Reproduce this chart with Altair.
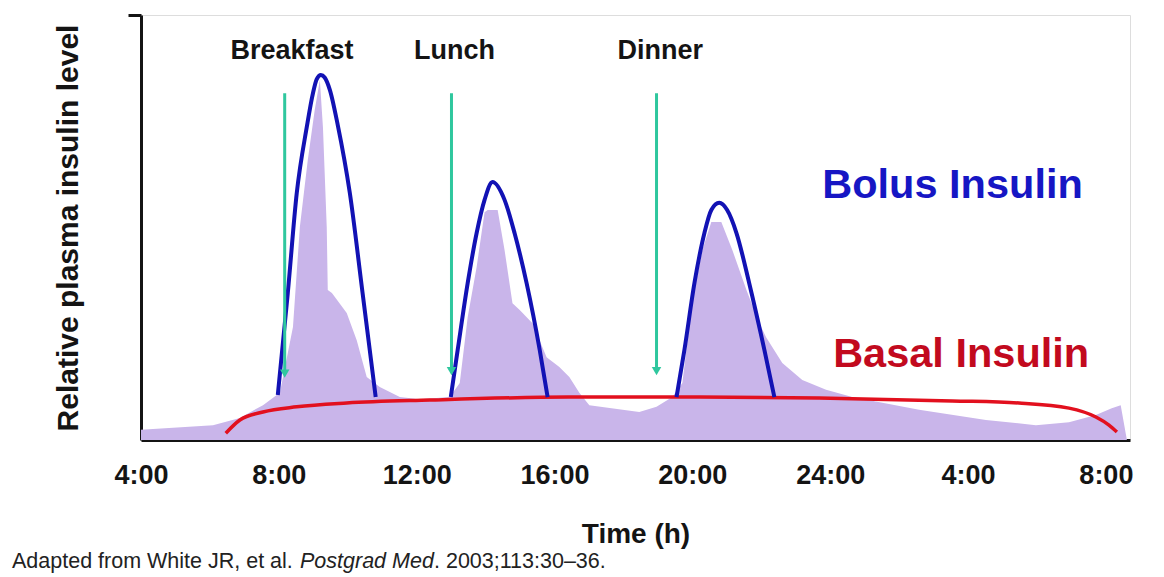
import altair as alt
import pandas as pd

# ---------------- data ----------------
# physiological insulin secretion (lavender area)
phys_hour = [4.0, 6.09, 6.87, 7.54, 7.94, 8.03, 8.41, 8.61, 8.84, 9.04, 9.19, 9.28, 9.39, 9.42,
             9.54, 9.97, 10.26, 10.55, 10.93, 11.51, 12.09, 12.96, 13.25, 13.48, 13.74, 13.97,
             14.06, 14.35, 14.55, 14.78, 14.99, 15.36, 15.77, 16.14, 16.43, 16.72, 17.01, 18.46,
             18.96, 19.42, 19.71, 20.00, 20.29, 20.55, 20.84, 21.16, 21.57, 21.94, 22.14, 22.61,
             23.19, 23.88, 24.64, 26.58, 28.52, 29.97, 30.93, 31.71, 32.17, 32.43, 32.61]
phys_level = [2.4, 3.5, 5.2, 8.2, 10.6, 11.1, 26.6, 50.1, 65.9, 77.6, 84.7, 73.6, 50.1, 35.3,
              34.6, 29.9, 23.5, 14.8, 12.5, 10.1, 9.6, 10.1, 13.4, 28.9, 40.7, 53.6,
              54.1, 54.1, 44.7, 32.2, 30.6, 27.5, 19.5, 17.2, 14.8, 11.1, 8.2, 6.6,
              7.8, 10.1, 13.4, 32.9, 44.7, 51.3, 51.3, 44.7, 35.3, 27.5, 24.2, 18.1,
              14.1, 11.8, 10.1, 7.1, 4.7, 3.5, 4.2, 5.9, 7.5, 8.2, 0.0]

# basal insulin (red curve)
basal_hour = [6.46, 6.87, 7.54, 8.52, 9.97, 12.38, 16.4, 20.2, 23.68, 27.54, 29.48, 30.93, 31.71, 32.09, 32.32]
basal_level = [1.6, 4.7, 6.6, 7.8, 8.7, 9.4, 10.1, 10.1, 9.9, 9.2, 8.7, 7.5, 5.4, 3.5, 1.9]

# bolus insulin (blue curves)
breakfast_hour = [7.97, 8.26, 8.52, 8.81, 8.99, 9.10, 9.22, 9.33, 9.48, 9.71, 10.06, 10.43, 10.81]
breakfast_level = [10.6, 34.6, 58.1, 73.6, 81.6, 84.9, 85.9, 85.3, 82.4, 74.1, 58.1, 34.6, 10.1]
lunch_hour = [12.99, 13.19, 13.48, 13.74, 13.97, 14.20, 14.55, 14.84, 15.19, 15.57, 15.80]
lunch_level = [10.1, 21.2, 36.9, 48.7, 56.5, 60.7, 56.5, 48.7, 36.9, 21.2, 10.1]
dinner_hour = [19.54, 19.77, 20.06, 20.35, 20.55, 20.78, 21.01, 21.28, 21.65, 22.09, 22.38]
dinner_level = [10.1, 21.2, 36.9, 48.7, 54.1, 55.8, 54.1, 48.7, 36.9, 21.2, 10.1]

# meal arrows and labels
meal_names = ["Breakfast", "Lunch", "Dinner"]
meal_hour = [8.17, 13.01, 18.96]
arrow_top = [81.6, 81.6, 81.6]
arrow_head = [15.6, 16.2, 16.2]
label_hour = [8.38, 13.10, 19.07]
label_level = [91.5, 91.5, 91.5]

# series labels
series_text = ["Bolus Insulin", "Basal Insulin"]
series_hour = [27.55, 27.8]
series_level = [59.8, 20.0]
series_color = ["#1616C4", "#C20A1E"]

# axis ticks
tick_hours = [4, 8, 12, 16, 20, 24, 28, 32]
tick_labels = ["4:00", "8:00", "12:00", "16:00", "20:00", "24:00", "4:00", "8:00"]

cite_parts = ["Adapted from White JR, et al. ", "Postgrad Med", ". 2003;113:30\u201336."]
cite_styles = ["normal", "italic", "normal"]

# ---------------- chart ----------------
FONT = "Liberation Sans"
PURPLE = "#C9B5EA"
BLUE = "#1212B4"
RED = "#E2101E"
GREEN = "#2FC79E"
INK = "#141414"

phys = pd.DataFrame({"hour": phys_hour, "level": phys_level})
basal = pd.DataFrame({"hour": basal_hour, "level": basal_level})
bolus = pd.DataFrame({
    "meal": ["Breakfast"] * len(breakfast_hour) + ["Lunch"] * len(lunch_hour) + ["Dinner"] * len(dinner_hour),
    "hour": breakfast_hour + lunch_hour + dinner_hour,
    "level": breakfast_level + lunch_level + dinner_level,
})
meals = pd.DataFrame({"meal": meal_names, "hour": meal_hour, "level": arrow_top, "head": arrow_head})
meal_lbl = pd.DataFrame({"meal": meal_names, "hour": label_hour, "level": label_level})
series = pd.DataFrame({"text": series_text, "hour": series_hour, "level": series_level, "color": series_color})

label_expr = " : ".join(f"datum.value == {h} ? '{t}'" for h, t in zip(tick_hours, tick_labels)) + " : ''"

xscale = alt.Scale(domain=[4, 32.7], nice=False, zero=False)
yscale = alt.Scale(domain=[0, 100], nice=False)

x_axis = alt.Axis(values=tick_hours, labelExpr=label_expr, labelFontSize=27, labelFontWeight="bold",
                  labelColor=INK, labelFont=FONT, labelFlush=False, labelOverlap=False,
                  ticks=False, tickSize=0, labelPadding=22, domainWidth=3, domainColor=INK,
                  grid=False, titleFontSize=28, titleFontWeight="bold", titleColor=INK,
                  titleFont=FONT, titlePadding=32)
y_axis = alt.Axis(values=[100], labels=False, tickSize=13, tickWidth=3, tickColor=INK,
                  domainWidth=3, domainColor=INK, grid=False, titleFontSize=30,
                  titleFontWeight="bold", titleColor=INK, titleFont=FONT, titlePadding=43)

X = alt.X("hour:Q", scale=xscale, axis=x_axis, title="Time (h)")
Y = alt.Y("level:Q", scale=yscale, axis=y_axis, title="Relative plasma insulin level")

area = alt.Chart(phys).mark_area(color=PURPLE, opacity=1, interpolate="linear").encode(x=X, y=Y)
basal_line = alt.Chart(basal).mark_line(color=RED, strokeWidth=3.5, interpolate="monotone").encode(x=X, y=Y)
bolus_line = alt.Chart(bolus).mark_line(color=BLUE, strokeWidth=4, interpolate="monotone").encode(
    x=X, y=Y, detail="meal:N")
arrows = alt.Chart(meals).mark_rule(color=GREEN, strokeWidth=3).encode(x=X, y=Y, y2=alt.Y2("head:Q"))
heads = alt.Chart(meals).mark_point(shape="triangle-down", filled=True, color=GREEN, size=90,
                                    opacity=1).encode(
    x=X, y=alt.Y("head:Q", scale=yscale, title="Relative plasma insulin level", axis=y_axis))
meal_text = alt.Chart(meal_lbl).mark_text(font=FONT, fontSize=27, fontWeight="bold", color=INK,
                                          align="center", baseline="middle").encode(x=X, y=Y, text="meal:N")
series_txt = alt.Chart(series).mark_text(font=FONT, fontSize=41.5, fontWeight="bold", align="center",
                                         baseline="middle").encode(
    x=X, y=Y, text="text:N", color=alt.Color("color:N", scale=None))

cite_x = [-129, 159, 293]
cite_layers = []
for part, style, cx in zip(cite_parts, cite_styles, cite_x):
    cite_layers.append(
        alt.Chart(pd.DataFrame({"t": [part]})).mark_text(
            font=FONT, fontSize=21.5, fontStyle=style, color="#222222", align="left", baseline="middle"
        ).encode(x=alt.value(cx), y=alt.value(547), text="t:N")
    )

chart = alt.layer(area, basal_line, bolus_line, arrows, heads, meal_text, series_txt, *cite_layers).properties(
    width=989, height=425,
    autosize=alt.AutoSizeParams(type="none"),
    padding={"left": 133, "top": 7, "right": 26, "bottom": 135},
).configure_view(stroke=None).configure(background="white")

chart.save("out.html", embed_options={"renderer": "svg", "actions": False})
